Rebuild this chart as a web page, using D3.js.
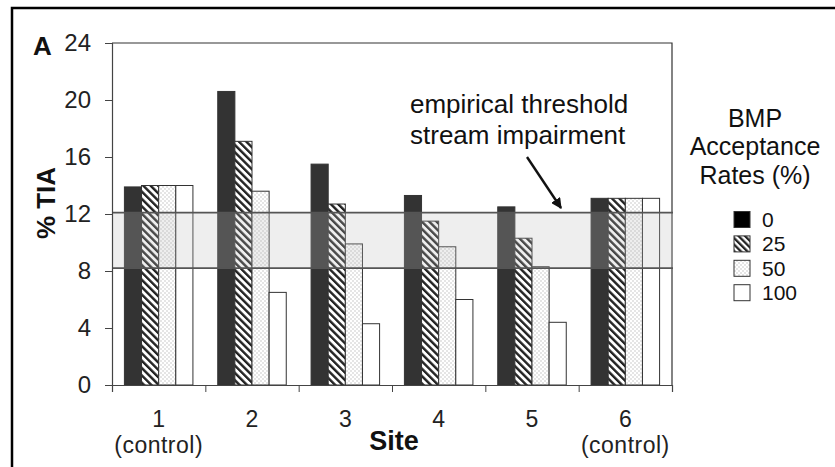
<!DOCTYPE html>
<html><head><meta charset="utf-8">
<script src="https://cdn.jsdelivr.net/npm/d3@7"></script>
<style>
html,body{margin:0;padding:0;background:#fff;}
svg{display:block;font-family:"Liberation Sans",Arial,sans-serif;}
</style></head>
<body><svg id="c" width="835" height="467"></svg>
<script>
const sites = ["1", "2", "3", "4", "5", "6"];
const siteNotes = ["(control)", "", "", "", "", "(control)"];
const rates = ["0", "25", "50", "100"];
const rate0 = [13.9, 20.6, 15.5, 13.3, 12.5, 13.1];
const rate25 = [14.0, 17.1, 12.7, 11.5, 10.3, 13.1];
const rate50 = [14.0, 13.6, 9.9, 9.7, 8.3, 13.1];
const rate100 = [14.0, 6.5, 4.3, 6.0, 4.4, 13.1];
const yTicks = [0, 4, 8, 12, 16, 20, 24];
const threshold = [8.2, 12.1];
const legendTitle = ["BMP", "Acceptance", "Rates (%)"];
const noteLines = ["empirical threshold", "stream impairment"];

const seriesVals = [rate0, rate25, rate50, rate100];
const svg = d3.select("#c");
const L = 112, R = 672, T = 43, B = 385;
const FONT = "Liberation Sans, Arial, sans-serif";

const defs = svg.append("defs");
function hatchPat(id, p, w) {
  const h = defs.append("pattern").attr("id", id).attr("patternUnits", "userSpaceOnUse")
    .attr("width", p).attr("height", p).attr("patternTransform", "rotate(-45)");
  h.append("rect").attr("width", p).attr("height", p).attr("fill", "#fff");
  h.append("rect").attr("x", 0).attr("width", w).attr("height", p).attr("fill", "#222");
}
hatchPat("hatch", 5.2, 2.4);
hatchPat("hatchL", 4.6, 2.3);
const dots = defs.append("pattern").attr("id", "dots").attr("patternUnits", "userSpaceOnUse")
  .attr("width", 4).attr("height", 4);
dots.append("rect").attr("width", 4).attr("height", 4).attr("fill", "#fff");
dots.append("rect").attr("x", 0.5).attr("y", 0.5).attr("width", 1).attr("height", 1).attr("fill", "#999");
dots.append("rect").attr("x", 2.5).attr("y", 2.5).attr("width", 1).attr("height", 1).attr("fill", "#999");
defs.append("marker").attr("id", "arr").attr("viewBox", "0 0 10 10").attr("refX", 9).attr("refY", 5)
  .attr("markerWidth", 4.5).attr("markerHeight", 4.5).attr("orient", "auto")
  .append("path").attr("d", "M0,0L10,5L0,10Z").attr("fill", "#111");

const fills = ["#333", "url(#hatch)", "url(#dots)", "#fff"];
const legendFills = ["#000", "url(#hatchL)", "url(#dots)", "#fff"];

// outer frame
svg.append("rect").attr("x", 12).attr("y", 8).attr("width", 900).attr("height", 600)
  .attr("fill", "none").attr("stroke", "#000").attr("stroke-width", 2.5);

const x0 = d3.scaleBand().domain(sites).range([L, R]).padding(0);
const off = x0.bandwidth() * 0.133;
const x1 = d3.scaleBand().domain(rates).range([off, x0.bandwidth() - off]).padding(0);
const y = d3.scaleLinear().domain([0, 24]).range([B, T]);
const xt = d3.scaleLinear().domain([0, sites.length]).range([L, R]);

// plot border top/right
svg.append("path").attr("d", `M${L},${T}H${R}V${B}`).attr("fill", "none").attr("stroke", "#333").attr("stroke-width", 1.2);

// bars
const g = svg.append("g");
sites.forEach((s, i) => {
  rates.forEach((r, k) => {
    const v = seriesVals[k][i];
    g.append("rect")
      .attr("x", x0(s) + x1(r)).attr("y", y(v))
      .attr("width", x1.bandwidth()).attr("height", y(0) - y(v))
      .attr("fill", fills[k]).attr("stroke", "#333").attr("stroke-width", 1);
  });
});

// threshold band
svg.append("rect").attr("x", L).attr("y", y(threshold[1])).attr("width", R - L + 1)
  .attr("height", y(threshold[0]) - y(threshold[1]))
  .attr("fill", "#bbb").attr("fill-opacity", 0.25);
threshold.forEach(t => {
  svg.append("line").attr("x1", L).attr("x2", R + 1).attr("y1", y(t)).attr("y2", y(t))
    .attr("stroke", "#555").attr("stroke-width", 1.6);
});

// axes
const ya = svg.append("g").attr("transform", `translate(${L},0)`)
  .call(d3.axisLeft(y).tickValues(yTicks).tickSize(7).tickPadding(14));
ya.select(".domain").attr("stroke", "#444").attr("stroke-width", 1.2);
ya.selectAll(".tick line").attr("stroke", "#444");
ya.selectAll("text").attr("font-size", 24).attr("fill", "#222").attr("font-family", FONT);

const xa = svg.append("g").attr("transform", `translate(0,${B})`)
  .call(d3.axisBottom(xt).tickValues(d3.range(sites.length + 1)).tickSize(7).tickFormat(""));
xa.select(".domain").attr("stroke", "#444").attr("stroke-width", 1.2);
xa.selectAll(".tick line").attr("stroke", "#444");

const xl = svg.append("g");
sites.forEach((s, i) => {
  const cx = x0(s) + x0.bandwidth() / 2;
  xl.append("text").attr("x", cx).attr("y", 427).attr("text-anchor", "middle")
    .attr("font-size", 23).attr("fill", "#222").text(s);
  if (siteNotes[i]) xl.append("text").attr("x", cx).attr("y", 453).attr("text-anchor", "middle")
    .attr("font-size", 23).attr("letter-spacing", 0.5).attr("fill", "#222").text(siteNotes[i]);
});

svg.append("text").attr("x", 394).attr("y", 450).attr("text-anchor", "middle")
  .attr("font-size", 27).attr("font-weight", "bold").attr("fill", "#111").text("Site");
svg.append("text").attr("transform", "translate(55,203) rotate(-90)").attr("text-anchor", "middle")
  .attr("font-size", 26).attr("font-weight", "bold").attr("fill", "#111").text("% TIA");
svg.append("text").attr("x", 33).attr("y", 55).attr("font-size", 26).attr("font-weight", "bold")
  .attr("fill", "#111").text("A");

// annotation
noteLines.forEach((t, i) => {
  svg.append("text").attr("x", 410).attr("y", 113 + i * 31)
    .attr("font-size", 26).attr("fill", "#111").text(t);
});
svg.append("line").attr("x1", 527).attr("y1", 157).attr("x2", 561).attr("y2", 208)
  .attr("stroke", "#111").attr("stroke-width", 2.4).attr("marker-end", "url(#arr)");

// legend
legendTitle.forEach((t, i) => {
  svg.append("text").attr("x", 755).attr("y", 127 + i * 28.3).attr("text-anchor", "middle")
    .attr("font-size", 25).attr("fill", "#111").text(t);
});
rates.forEach((r, k) => {
  const yy = 211.5 + k * 24.4;
  svg.append("rect").attr("x", 734).attr("y", yy).attr("width", 16).attr("height", 16)
    .attr("fill", legendFills[k]).attr("stroke", "#333").attr("stroke-width", 1);
  svg.append("text").attr("x", 762).attr("y", yy + 15.5).attr("font-size", 21).attr("fill", "#111").text(r);
});
</script></body></html>
